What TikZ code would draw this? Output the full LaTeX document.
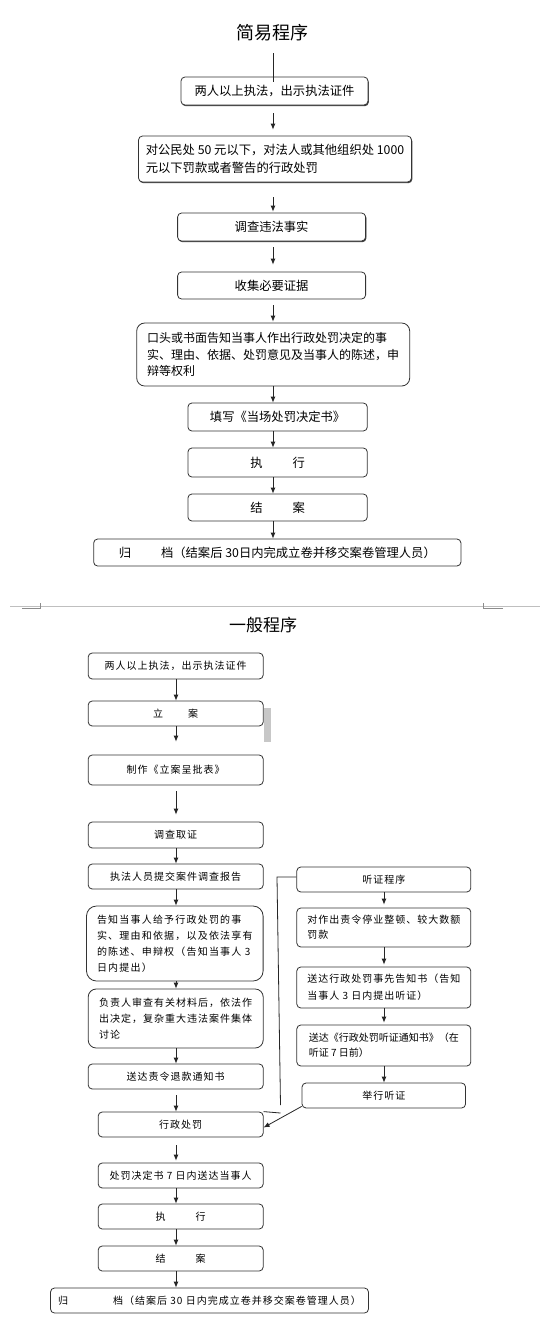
\documentclass[tikz,border=0pt]{standalone}
\usepackage{fontspec}
\setmainfont{Noto Sans CJK SC}
\newfontfamily\cjksp[LetterSpace=10]{Noto Sans CJK SC}
\newfontfamily\cjkwide[LetterSpace=12]{Noto Sans CJK SC}
\usetikzlibrary{arrows.meta,calc,shadows}
\begin{document}
\begin{tikzpicture}[x=1pt,y=-1pt,
  box/.style={draw=black!80, line width=0.8pt, rounded corners=4pt, inner sep=0pt, align=center, fill=white},
  tbox/.style={box, font=\fontsize{12.3}{16}\selectfont},
  gbox/.style={box, font=\cjksp\fontsize{10}{16}\selectfont},
  shd/.style={drop shadow={shadow xshift=0.8pt, shadow yshift=-1.2pt, fill=black!75, opacity=1}},
  arr/.style={draw=black!85, line width=0.8pt, -{Latex[length=6pt,width=5pt]}},
  ln/.style={draw=black!85, line width=0.8pt}]
\fill[white] (0,0) rectangle (551,1334);
\useasboundingbox (0,0) rectangle (551,1334);

% ---------- simple procedure ----------
\node[font=\fontsize{18}{18}\selectfont] (t1) at (272.5,33) {简易程序};
\coordinate (ax) at (273,0);

\node[tbox, shd, minimum width=187pt, minimum height=28pt] (b1) at (274.5,91) {两人以上执法，出示执法证件};
\node[tbox, shd, minimum width=273pt, minimum height=46pt, align=left, font=\fontsize{12.3}{18}\selectfont] (b2) at (275,159)
  {对公民处 50 元以下，对法人或其他组织处 1000\\元以下罚款或者警告的行政处罚};
\node[tbox, shd, minimum width=188pt, minimum height=28pt] (b3) at (271.6,227) {调查违法事实};
\node[tbox, minimum width=188pt, minimum height=27pt] (b4) at (271.6,285.5) {收集必要证据};
\node[tbox, rounded corners=8pt, minimum width=273pt, minimum height=63pt, align=left, font=\fontsize{12}{16.5}\selectfont] (b5) at (273.2,354.5)
  {口头或书面告知当事人作出行政处罚决定的事\\实、理由、依据、处罚意见及当事人的陈述，申\\辩等权利};
\node[tbox, minimum width=179.4pt, minimum height=28pt] (b6) at (277.6,417) {填写《当场处罚决定书》};
\node[tbox, minimum width=179.4pt, minimum height=29pt] (b7) at (277.6,462.5) {执\hspace{30pt}行};
\node[tbox, minimum width=179.4pt, minimum height=27pt] (b8) at (277.6,507.5) {结\hspace{30pt}案};
\node[tbox, minimum width=367.3pt, minimum height=27pt] (b9) at (277.3,552.5) {归\hspace{30pt}档（结案后 30日内完成立卷并移交案卷管理人员）};

\draw[ln] (273,53) -- ($(b1.north -| ax)+(0,5)$);
\draw[arr, shorten <=8pt, shorten >=6pt] (b1.south -| ax) -- (b2.north -| ax);
\draw[arr, shorten <=15pt, shorten >=1pt] (b2.south -| ax) -- (b3.north -| ax);
\draw[arr, shorten <=6pt, shorten >=7pt] (b3.south -| ax) -- (b4.north -| ax);
\draw[arr, shorten <=6pt, shorten >=1pt] (b4.south -| ax) -- (b5.north -| ax);
\draw[arr] (b5.south -| ax) -- (b6.north -| ax);
\draw[arr] (b6.south -| ax) -- (b7.north -| ax);
\draw[arr] (b7.south -| ax) -- (b8.north -| ax);
\draw[arr] (b8.south -| ax) -- (b9.north -| ax);

% ---------- page break marks ----------
\draw[black!25, line width=0.8pt] (10,606) -- (540,606);
\draw[black!45, line width=0.8pt] (22,608.5) -- (40,608.5) -- (40,603);
\draw[black!45, line width=0.8pt] (503,608.5) -- (483,608.5) -- (483,603);

% ---------- general procedure ----------
\node[font=\fontsize{17}{17}\selectfont] (t2) at (263,625) {一般程序};
\coordinate (gx) at (176,0);
\coordinate (rx) at (384,0);

\fill[black!22] (264.2,708) rectangle (270.9,742);

\node[gbox, minimum width=175pt, minimum height=26pt] (A) at (175.7,666) {两人以上执法，出示执法证件};
\node[gbox, minimum width=175pt, minimum height=25pt] (B) at (175.7,713.5) {立\hspace{25pt}案};
\node[gbox, minimum width=175pt, minimum height=30pt] (C) at (175.7,770) {制作《立案呈批表》};
\node[gbox, minimum width=175pt, minimum height=26pt] (D) at (175.7,835) {调查取证};
\node[gbox, minimum width=175pt, minimum height=25pt] (E) at (175.7,876.5) {执法人员提交案件调查报告};
\node[gbox, rounded corners=10pt, minimum width=176.6pt, minimum height=75pt, align=left, font=\cjkwide\fontsize{10}{16}\selectfont] (F) at (174.8,943.5)
  {告知当事人给予行政处罚的事\\实、理由和依据，以及依法享有\\的陈述、申辩权（告知当事人 3\\日内提出）};
\node[gbox, rounded corners=8pt, minimum width=175pt, minimum height=59pt, align=left] (G) at (175.7,1018.5)
  {负责人审查有关材料后，依法作\\出决定，复杂重大违法案件集体\\讨论};
\node[gbox, minimum width=175pt, minimum height=25pt] (H) at (175.7,1076.5) {送达责令退款通知书};
\node[gbox, minimum width=165pt, minimum height=25pt] (I) at (180.7,1124.5) {行政处罚};
\node[gbox, minimum width=165pt, minimum height=25pt] (J) at (180.7,1175.5) {处罚决定书 7 日内送达当事人};
\node[gbox, minimum width=165pt, minimum height=25pt] (K) at (180.7,1216.5) {执\hspace{30pt}行};
\node[gbox, minimum width=165pt, minimum height=25pt] (L) at (180.7,1258.5) {结\hspace{30pt}案};
\node[gbox, minimum width=318pt, minimum height=25pt] (M) at (209.5,1300.5) {归\hspace{45pt}档（结案后 30 日内完成立卷并移交案卷管理人员）};

\node[gbox, minimum width=174pt, minimum height=25pt] (R1) at (383.8,879.5) {听证程序};
\node[gbox, minimum width=174pt, minimum height=39pt, align=left, font=\cjksp\fontsize{10}{15}\selectfont] (R2) at (383.8,927.5)
  {对作出责令停业整顿、较大数额\\罚款};
\node[gbox, minimum width=174pt, minimum height=41pt, align=left, font=\cjksp\fontsize{10}{17}\selectfont] (R3) at (383.8,987.5)
  {送达行政处罚事先告知书（告知\\当事人 3 日内提出听证）};
\node[gbox, minimum width=174pt, minimum height=41pt, align=left, font=\fontsize{10}{15}\selectfont] (R4) at (383.8,1045.5)
  {送达《行政处罚听证通知书》（在\\听证 7 日前）};
\node[gbox, minimum width=163.5pt, minimum height=25pt] (R5) at (383.8,1095.5) {举行听证};

\draw[arr] (A.south -| gx) -- (B.north -| gx);
\draw[arr, shorten >=13pt] (B.south -| gx) -- (C.north -| gx);
\draw[arr, shorten <=6pt, shorten >=7pt] (C.south -| gx) -- (D.north -| gx);
\draw[arr] (D.south -| gx) -- (E.north -| gx);
\draw[arr] (E.south -| gx) -- (F.north -| gx);
\draw[arr] (F.south -| gx) -- (G.north -| gx);
\draw[arr] (G.south -| gx) -- (H.north -| gx);
\draw[arr, shorten <=6pt] (H.south -| gx) -- (I.north -| gx);
\draw[arr, shorten <=8pt, shorten >=2pt] (I.south -| gx) -- (J.north -| gx);
\draw[arr] (J.south -| gx) -- (K.north -| gx);
\draw[arr] (K.south -| gx) -- (L.north -| gx);
\draw[arr] (L.south -| gx) -- (M.north -| gx);

\draw[arr, shorten >=3pt] (R1.south -| rx) -- (R2.north -| rx);
\draw[arr, shorten >=2pt] (R2.south -| rx) -- (R3.north -| rx);
\draw[arr, shorten >=2pt] (R3.south -| rx) -- (R4.north -| rx);
\draw[arr] (R4.south -| rx) -- (R5.north -| rx);

\coordinate (hc1) at (277,877);
\coordinate (hc2) at (280.5,1105);
\coordinate (hc3) at (280.5,1113);
\draw[ln] (R1.west |- hc1) -- (hc1) -- (hc2);
\draw[ln] (I.north east) -- (hc3);
\draw[arr] ($(R5.south west)+(0,-2)$) -- ($(I.east)+(0,3)$);
\end{tikzpicture}
\end{document}
